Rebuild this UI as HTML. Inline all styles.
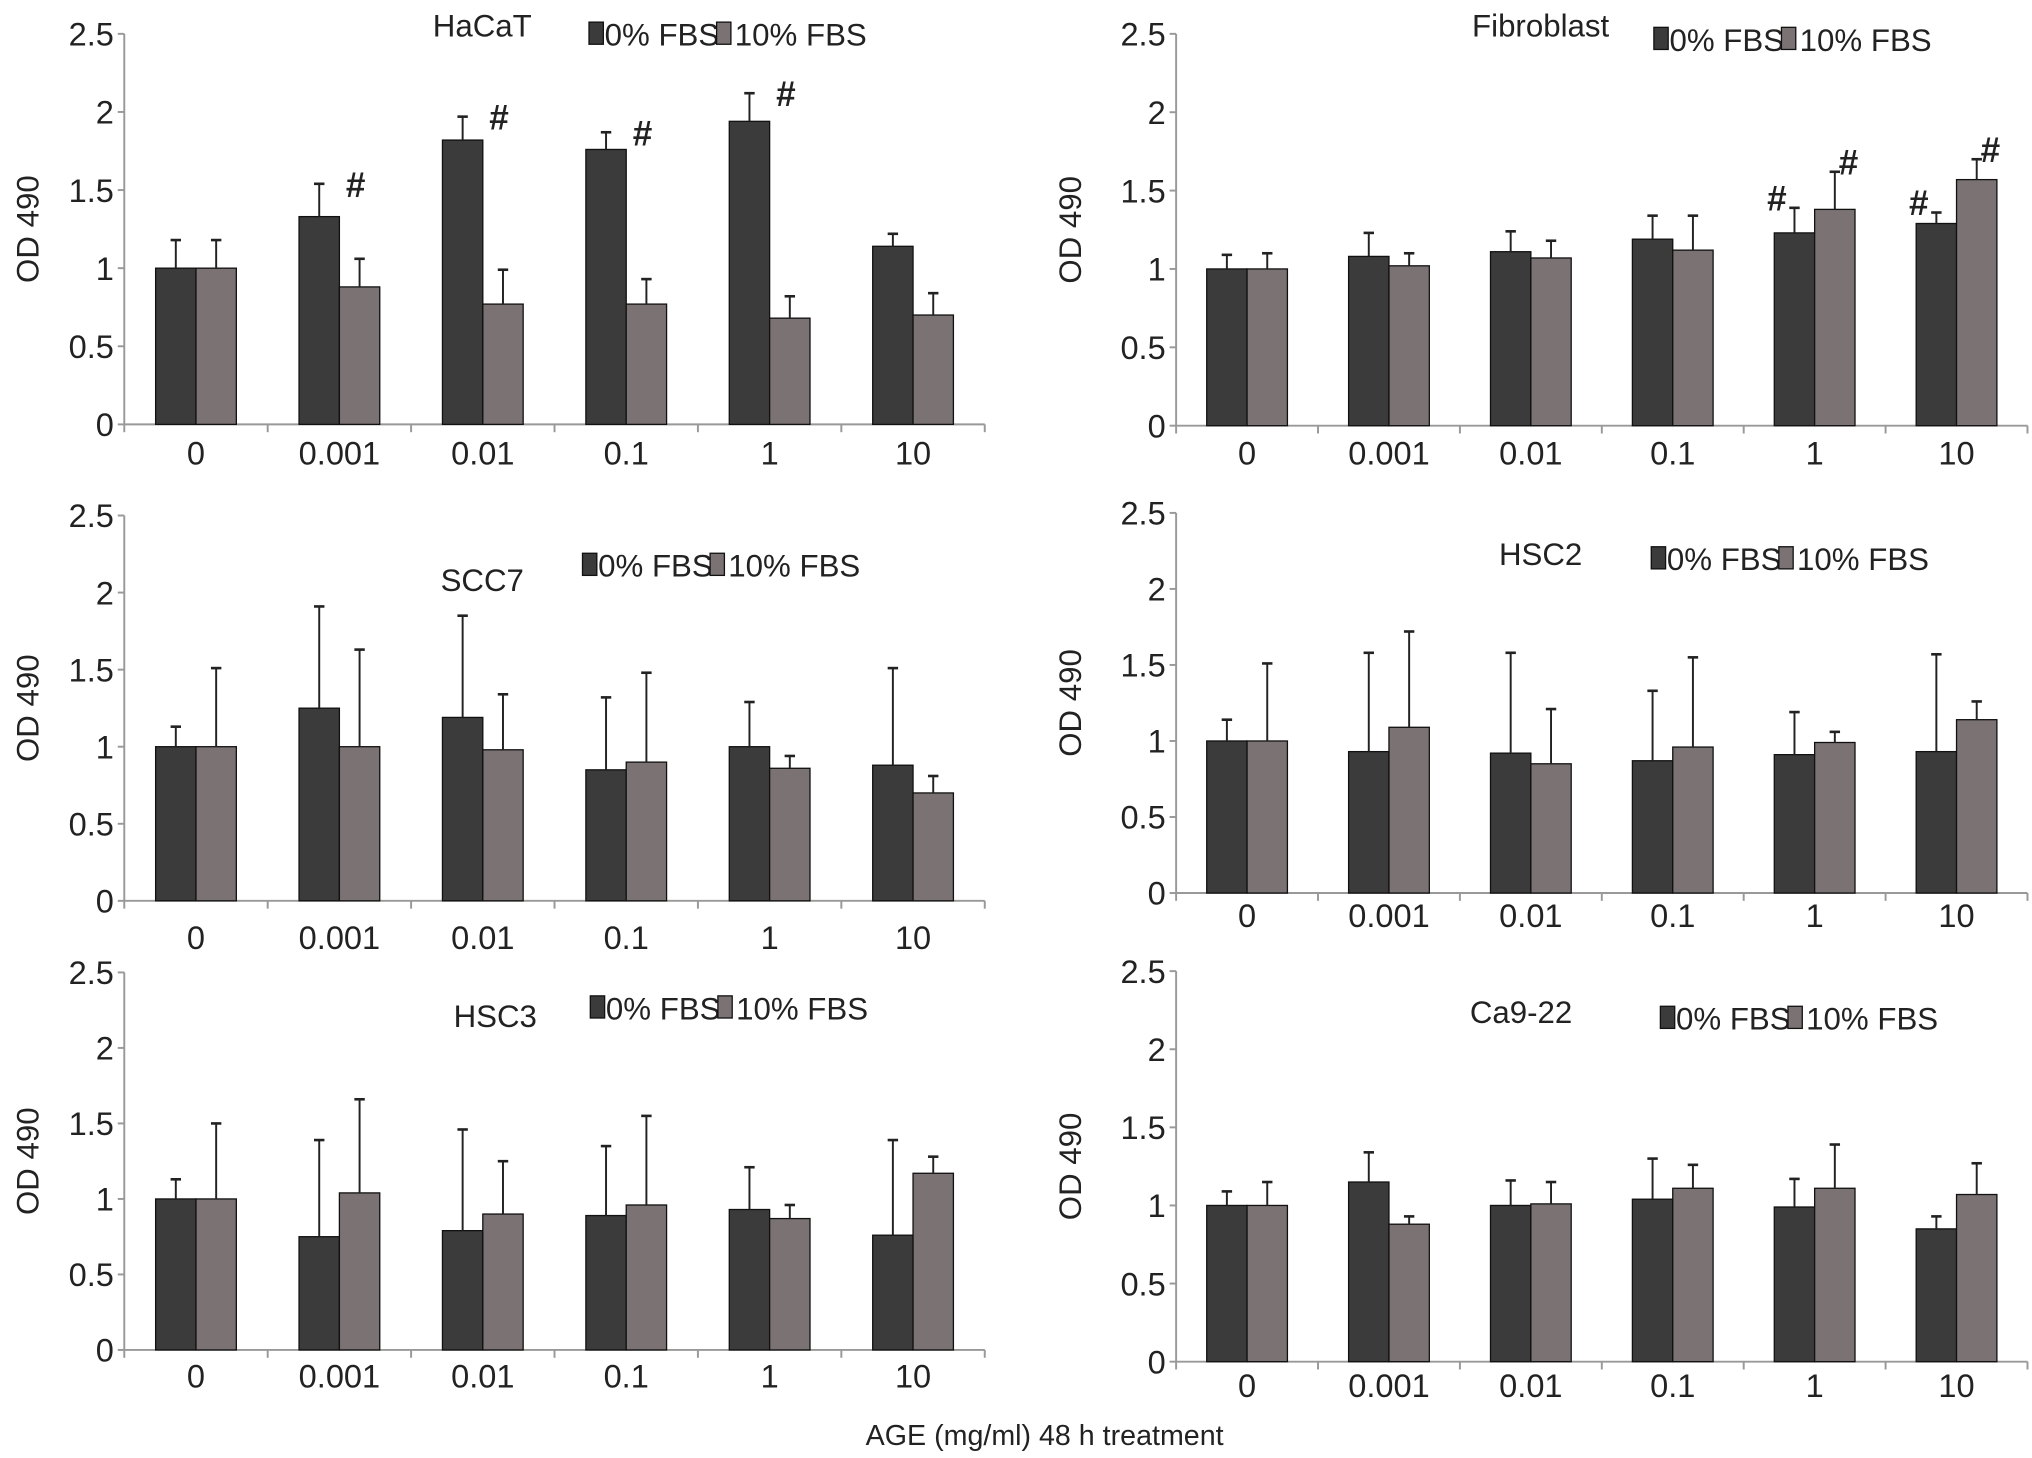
<!DOCTYPE html>
<html><head><meta charset="utf-8"><style>
html,body{margin:0;padding:0;background:#fff;}
svg{display:block;font-family:"Liberation Sans",Arial,sans-serif;}
</style></head><body>
<svg id="fig" width="2032" height="1458" viewBox="0 0 1560 1120"></svg>
<script>
const categories = ["0","0.001","0.01","0.1","1","10"];
const yTicks = ["0","0.5","1","1.5","2","2.5"];
const hacatDark = [1,1.33,1.82,1.76,1.94,1.14];
const hacatDarkErr = [1.18,1.54,1.97,1.87,2.12,1.22];
const hacatLight = [1,0.88,0.77,0.77,0.68,0.70];
const hacatLightErr = [1.18,1.06,0.99,0.93,0.82,0.84];
const fibroDark = [1,1.08,1.11,1.19,1.23,1.29];
const fibroDarkErr = [1.09,1.23,1.24,1.34,1.39,1.36];
const fibroLight = [1,1.02,1.07,1.12,1.38,1.57];
const fibroLightErr = [1.10,1.10,1.18,1.34,1.62,1.70];
const scc7Dark = [1,1.25,1.19,0.85,1,0.88];
const scc7DarkErr = [1.13,1.91,1.85,1.32,1.29,1.51];
const scc7Light = [1,1,0.98,0.9,0.86,0.7];
const scc7LightErr = [1.51,1.63,1.34,1.48,0.94,0.81];
const hsc2Dark = [1,0.93,0.92,0.87,0.91,0.93];
const hsc2DarkErr = [1.14,1.58,1.58,1.33,1.19,1.57];
const hsc2Light = [1,1.09,0.85,0.96,0.99,1.14];
const hsc2LightErr = [1.51,1.72,1.21,1.55,1.06,1.26];
const hsc3Dark = [1,0.75,0.79,0.89,0.93,0.76];
const hsc3DarkErr = [1.13,1.39,1.46,1.35,1.21,1.39];
const hsc3Light = [1,1.04,0.9,0.96,0.87,1.17];
const hsc3LightErr = [1.5,1.66,1.25,1.55,0.96,1.28];
const ca922Dark = [1,1.15,1,1.04,0.99,0.85];
const ca922DarkErr = [1.09,1.34,1.16,1.3,1.17,0.93];
const ca922Light = [1,0.88,1.01,1.11,1.11,1.07];
const ca922LightErr = [1.15,0.93,1.15,1.26,1.39,1.27];
const hacatHashDark = [0,1,1,1,1,0];
const fibroHashDark = [0,0,0,0,1,1];
const fibroHashLight = [0,0,0,0,1,1];

const NS="http://www.w3.org/2000/svg";
const svg=document.getElementById('fig');
function mk(tag,attrs,parent){const e=document.createElementNS(NS,tag);for(const k in attrs)e.setAttribute(k,attrs[k]);(parent||svg).appendChild(e);return e;}

const panels=[
 {id:'hacat',title:'HaCaT',x0:95,x1:756,y0:326,yTop:26,tx:370,ty:28,lx:452,ly:34,d:hacatDark,de:hacatDarkErr,l:hacatLight,le:hacatLightErr,hd:hacatHashDark,cy:357,yx:29},
 {id:'fibroblast',title:'Fibroblast',x0:903,x1:1557,y0:327,yTop:26,tx:1183,ty:28,lx:1270,ly:38,d:fibroDark,de:fibroDarkErr,l:fibroLight,le:fibroLightErr,hd:fibroHashDark,hl:fibroHashLight,cy:357,yx:830},
 {id:'scc7',title:'SCC7',x0:95,x1:756,y0:692,yTop:396,tx:370,ty:454,lx:447,ly:442,d:scc7Dark,de:scc7DarkErr,l:scc7Light,le:scc7LightErr,cy:729,yx:29},
 {id:'hsc2',title:'HSC2',x0:903,x1:1557,y0:686,yTop:394,tx:1183,ty:434,lx:1268,ly:437,d:hsc2Dark,de:hsc2DarkErr,l:hsc2Light,le:hsc2LightErr,cy:712,yx:830},
 {id:'hsc3',title:'HSC3',x0:95,x1:756,y0:1037,yTop:747,tx:380,ty:789,lx:453,ly:782,d:hsc3Dark,de:hsc3DarkErr,l:hsc3Light,le:hsc3LightErr,cy:1066,yx:29},
 {id:'ca9-22',title:'Ca9-22',x0:903,x1:1557,y0:1046,yTop:746,tx:1168,ty:786,lx:1275,ly:790,d:ca922Dark,de:ca922DarkErr,l:ca922Light,le:ca922LightErr,cy:1073,yx:830}
];
const DARK='#3b3b3b',LIGHT='#7b7373';
panels.forEach(p=>{
 const g=mk('g',{});
 
 
 const n=categories.length, cw=(p.x1-p.x0)/n;
 const y=v=>p.y0-(v/2.5)*(p.y0-p.yTop);
 const xc=i=>p.x0+cw*(i+0.5);
 const ya=mk('line',{x1:p.x0,y1:p.yTop,x2:p.x0,y2:p.y0,stroke:'#999','stroke-width':1.5},g);
 
 yTicks.forEach(t=>{const v=parseFloat(t);
  mk('line',{x1:p.x0-5,y1:y(v),x2:p.x0,y2:y(v),stroke:'#999','stroke-width':1.5},g);
  const tl=mk('text',{x:p.x0-8,y:y(v)+9,'text-anchor':'end','font-size':25,fill:'#222'},g);tl.textContent=t;
  
 });
 const xa=mk('line',{x1:p.x0,y1:p.y0,x2:p.x1,y2:p.y0,stroke:'#999','stroke-width':1.5},g);
 
 for(let i=0;i<=n;i++){const x=p.x0+cw*i;mk('line',{x1:x,y1:p.y0,x2:x,y2:p.y0+6,stroke:'#999','stroke-width':1.5},g);}
 const ym=(p.y0+p.yTop)/2;
 const yt=mk('text',{x:0,y:0,transform:`translate(${p.yx},${ym}) rotate(-90)`,'text-anchor':'middle','font-size':24,fill:'#222'},g);yt.textContent='OD 490';
 
 categories.forEach((c,i)=>{
  const cl=mk('text',{x:xc(i),y:p.cy,'text-anchor':'middle','font-size':25,fill:'#222'},g);cl.textContent=c;
  
  [[p.d,p.de,DARK,-31,p.hd],[p.l,p.le,LIGHT,0,p.hl]].forEach(([vals,errs,col,off,hash],k)=>{
   const bx=xc(i)+off, by=y(vals[i]);
   const r=mk('rect',{x:bx,y:by,width:31,height:p.y0-by,fill:col,stroke:'#111','stroke-width':1},g);
   
   
   const ex=bx+15.5, ey=y(errs[i]);
   const el=mk('line',{x1:ex,y1:by,x2:ex,y2:ey,stroke:'#222','stroke-width':1.5},g);
   
   mk('line',{x1:ex-4,y1:ey,x2:ex+4,y2:ey,stroke:'#222','stroke-width':2},g);
   if(hash&&hash[i]){
    let hx, hy;
    if(p.id==='hacat'){hx=bx+36;hy=ey+10;}
    else if(k===0){hx=ex-21;hy=ey+2;}
    else {hx=ex+3;hy=ey+2;}
    const h=mk('text',{x:hx,y:hy,'text-anchor':'start','font-size':27,'font-weight':'bold',fill:'#222'},g);h.textContent='#';
    }
  });
 });
 const t=mk('text',{x:p.tx,y:p.ty,'text-anchor':'middle','font-size':24,fill:'#222'},g);t.textContent=p.title;
 
 const lg=mk('g',{},g);
 mk('rect',{x:p.lx,y:p.ly-17,width:11,height:17,fill:DARK,stroke:'#111'},lg);
 const l1=mk('text',{x:p.lx+12,y:p.ly+1,'font-size':24,fill:'#222'},lg);l1.textContent='0% FBS';
 mk('rect',{x:p.lx+98,y:p.ly-17,width:11,height:17,fill:LIGHT,stroke:'#111'},lg);
 const l2=mk('text',{x:p.lx+112,y:p.ly+1,'font-size':24,fill:'#222'},lg);l2.textContent='10% FBS';
});
const xt=mk('text',{x:802,y:1110,'text-anchor':'middle','font-size':22,fill:'#222'});xt.textContent='AGE (mg/ml) 48 h treatment';


</script>
</body></html>
